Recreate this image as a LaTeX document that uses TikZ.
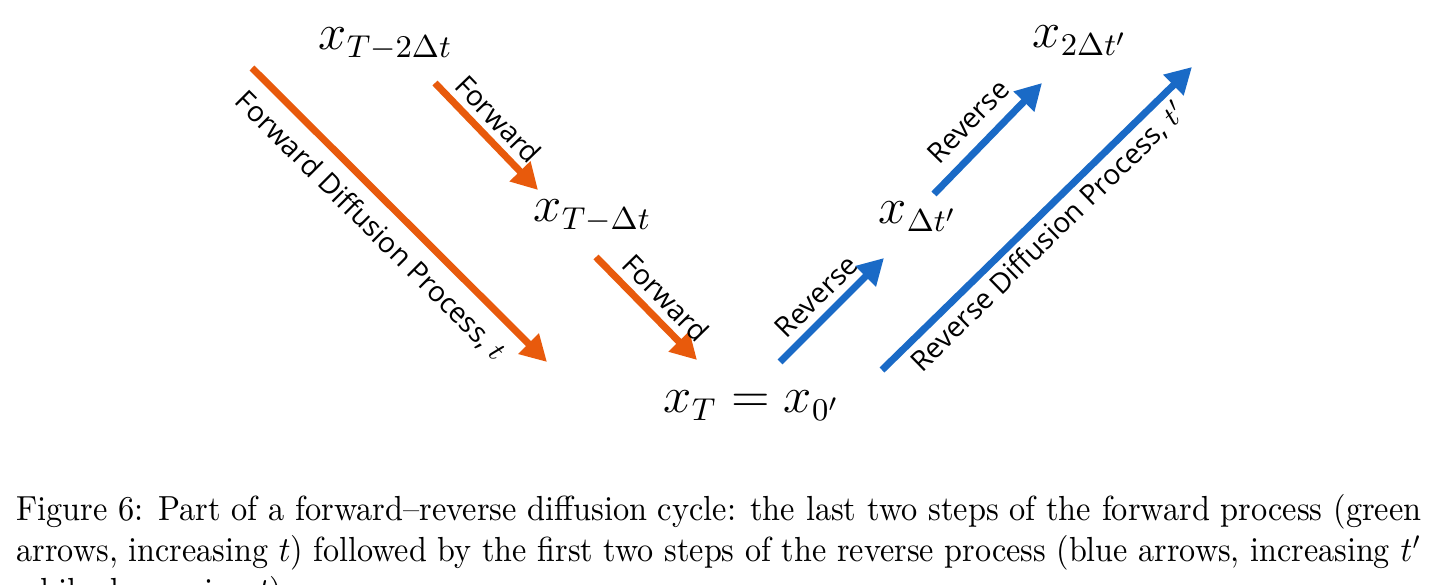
\documentclass[tikz,border=0pt]{standalone}
\usepackage{graphicx}
\usepackage{fontspec}
\newfontfamily\lblfont{Open Sans}
\usetikzlibrary{arrows.meta}
\definecolor{fwdorange}{RGB}{232,90,12}
\definecolor{revblue}{RGB}{26,106,198}
\tikzset{
	fwd/.style={draw=fwdorange,line width=2pt,-{Triangle[length=7.4pt,width=7.8pt]}},
	rev/.style={draw=revblue,line width=2pt,-{Triangle[length=7.4pt,width=7.8pt]}},
	lbl/.style={font=\lblfont\fontsize{8}{9}\selectfont,inner sep=0pt,sloped},
	st/.style={font=\fontsize{13.3}{15}\selectfont,inner sep=0pt,anchor=base west},
	capline/.style={font=\fontsize{9.9}{11.7}\selectfont,inner sep=0pt,anchor=base west}
}
\begin{document}
\begin{tikzpicture}[x=0.01cm,y=-0.01cm]
			\useasboundingbox (0,0) rectangle (1435,585);
			\def\capw{14.04cm}
			% states
			\node[st] (xa) at (318,50) {$x_{T-2\Delta t}$};
			\node[st] (xb) at (533,222) {$x_{T-\Delta t}$};
			\node[st] (xc) at (663,413) {$x_T = x_{0'}$};
			\node[st] (xd) at (878,224) {$x_{\Delta t'}$};
			\node[st] (xe) at (1032,48) {$x_{2\Delta t'}$};
			%===========================================
			\coordinate (fa) at (252,68);   \coordinate (fb) at (547,362);
			\coordinate (fa1) at (435,83);  \coordinate (fb1) at (538,190);
			\coordinate (fa2) at (596,257); \coordinate (fb2) at (697,360);
			\coordinate (ra1) at (780,362); \coordinate (rb1) at (884,258);
			\coordinate (ra2) at (934,194); \coordinate (rb2) at (1042,83);
			\coordinate (ra) at (882,370);  \coordinate (rb) at (1192,67);
			\draw[fwd] (fa)--(fb) node[lbl,below=3.5pt,pos=.47] {Forward Diffusion Process, $t$};
			\draw[fwd] (fa1)--(fb1) node[lbl,above=1.8pt,pos=.47] {Forward};
			\draw[fwd] (fa2)--(fb2) node[lbl,above=2pt,pos=.54] {Forward};
			\draw[rev] (ra1)--(rb1) node[lbl,above=2pt,pos=.49] {Reverse};
			\draw[rev] (ra2)--(rb2) node[lbl,above=3.5pt,pos=.49] {Reverse};
			\draw[rev] (ra)--(rb) node[lbl,below=1.5pt,pos=.49] {Reverse Diffusion Process, $t'$};
			%===========================================
			\node[capline] (cap1) at (16,521) {\resizebox{\capw}{\height}{Figure 6: Part of a forward--reverse diffusion cycle: the last two steps of the forward process (green}};
			\node[capline] (cap2) at (16,562) {\resizebox{\capw}{\height}{arrows, increasing $t$) followed by the first two steps of the reverse process (blue arrows, increasing $t'$}};
			\node[capline] (cap3) at (16,603) {\resizebox{!}{\height}{\scalebox{.93}[1]{while decreasing $t$).}}};
	\end{tikzpicture}
\end{document}
